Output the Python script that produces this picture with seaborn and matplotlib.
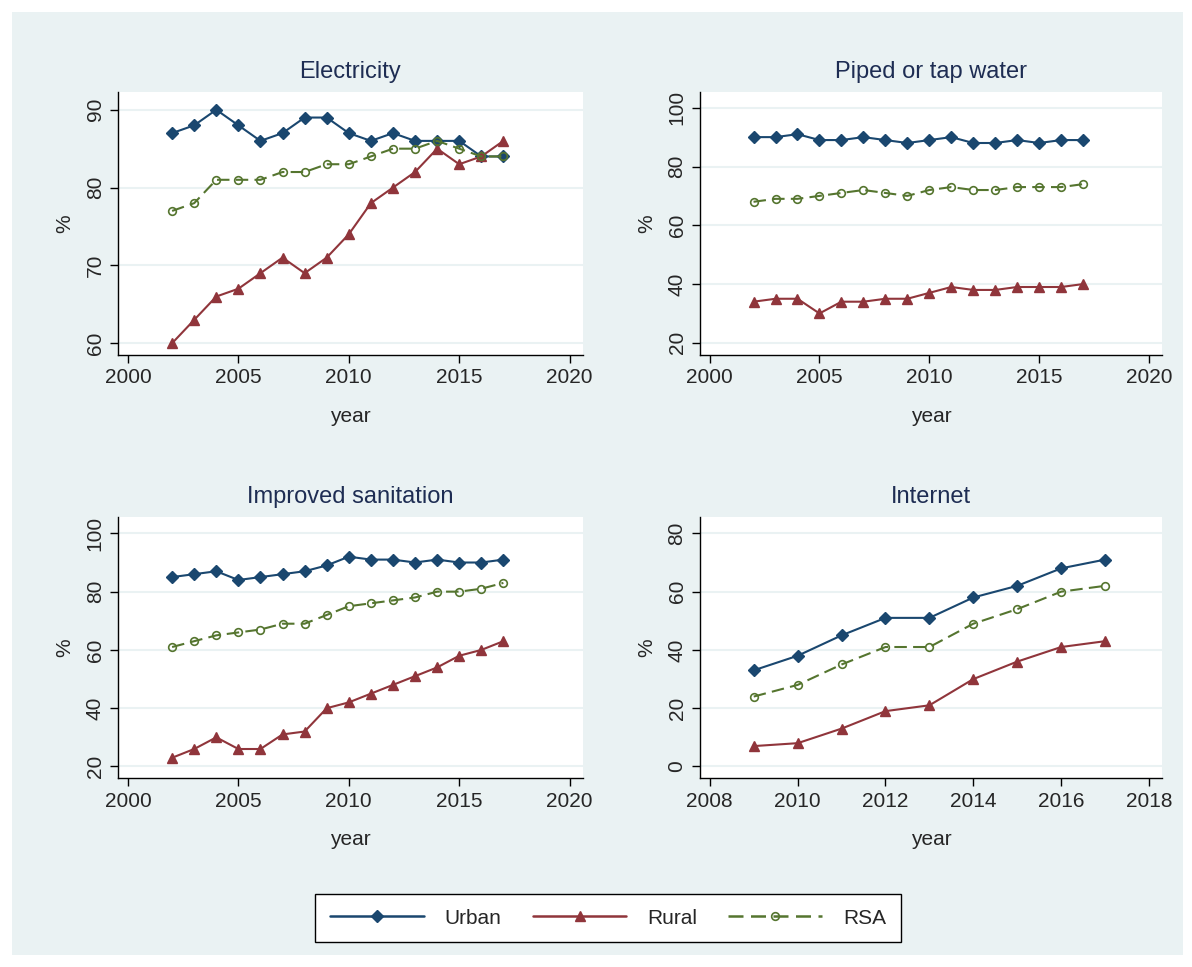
import pandas as pd
import seaborn as sns
import matplotlib.pyplot as plt
from matplotlib.patches import Rectangle
from matplotlib.lines import Line2D

years = list(range(2002, 2018))
years_net = list(range(2009, 2018))

elec_urban = [87, 88, 90, 88, 86, 87, 89, 89, 87, 86, 87, 86, 86, 86, 84, 84]
elec_rural = [60, 63, 66, 67, 69, 71, 69, 71, 74, 78, 80, 82, 85, 83, 84, 86]
elec_rsa = [77, 78, 81, 81, 81, 82, 82, 83, 83, 84, 85, 85, 86, 85, 84, 84]

water_urban = [90, 90, 91, 89, 89, 90, 89, 88, 89, 90, 88, 88, 89, 88, 89, 89]
water_rural = [34, 35, 35, 30, 34, 34, 35, 35, 37, 39, 38, 38, 39, 39, 39, 40]
water_rsa = [68, 69, 69, 70, 71, 72, 71, 70, 72, 73, 72, 72, 73, 73, 73, 74]

san_urban = [85, 86, 87, 84, 85, 86, 87, 89, 92, 91, 91, 90, 91, 90, 90, 91]
san_rural = [23, 26, 30, 26, 26, 31, 32, 40, 42, 45, 48, 51, 54, 58, 60, 63]
san_rsa = [61, 63, 65, 66, 67, 69, 69, 72, 75, 76, 77, 78, 80, 80, 81, 83]

net_urban = [33, 38, 45, 51, 51, 58, 62, 68, 71]
net_rural = [7, 8, 13, 19, 21, 30, 36, 41, 43]
net_rsa = [24, 28, 35, 41, 41, 49, 54, 60, 62]

C_URB, C_RUR, C_RSA = "#1a476f", "#90353b", "#55752f"
styles = {
    "Urban": dict(color=C_URB, marker="D", markersize=6.5, linestyle="-"),
    "Rural": dict(color=C_RUR, marker="^", markersize=7, linestyle="-"),
    "RSA": dict(color=C_RSA, marker="o", markersize=5.5, linestyle=(0, (6, 3)),
                markerfacecolor="none", markeredgewidth=1.2),
}

panels = [
    ("Electricity", years, (elec_urban, elec_rural, elec_rsa), [0.099, 0.633, 0.390, 0.272],
     (1999.55, 2020.6), range(2000, 2021, 5), (58.5, 92.3), [60, 70, 80, 90]),
    ("Piped or tap water", years, (water_urban, water_rural, water_rsa), [0.587, 0.633, 0.388, 0.272],
     (1999.55, 2020.6), range(2000, 2021, 5), (15.9, 105.4), [20, 40, 60, 80, 100]),
    ("Improved sanitation", years, (san_urban, san_rural, san_rsa), [0.099, 0.195, 0.390, 0.270],
     (1999.55, 2020.6), range(2000, 2021, 5), (15.9, 105.5), [20, 40, 60, 80, 100]),
    ("Internet", years_net, (net_urban, net_rural, net_rsa), [0.587, 0.195, 0.388, 0.270],
     (2007.77, 2018.3), range(2008, 2019, 2), (-4.1, 85.5), [0, 20, 40, 60, 80]),
]

sns.set_style("white")
plt.rcParams['font.family'] = ['Liberation Sans', 'DejaVu Sans']
fig = plt.figure(figsize=(11.92, 9.67), dpi=100)
fig.patches.append(Rectangle((12 / 1192, 12 / 967), 1171 / 1192, 943 / 967, transform=fig.transFigure,
                             facecolor="#eaf2f3", edgecolor="none", zorder=-10))

for title, xs, series, pos, xlim, xticks, ylim, yticks in panels:
    ax = fig.add_axes(pos)
    ax.set_facecolor("white")
    for name, vals in zip(["Urban", "Rural", "RSA"], series):
        df = pd.DataFrame({"year": xs, "v": vals})
        st = styles[name]
        sns.lineplot(data=df, x="year", y="v", ax=ax, color=st["color"], linewidth=1.5,
                     marker=st["marker"], markersize=st["markersize"], linestyle=st["linestyle"],
                     markeredgecolor=st["color"],
                     markerfacecolor=st.get("markerfacecolor", st["color"]),
                     markeredgewidth=st.get("markeredgewidth", 1))
    ax.set_xlim(*xlim)
    ax.set_ylim(*ylim)
    ax.set_xticks(list(xticks))
    ax.set_yticks(yticks)
    ax.grid(axis="y", color="#eaf2f3", linewidth=1.5)
    ax.set_axisbelow(True)
    for s in ["top", "right"]:
        ax.spines[s].set_visible(False)
    for s in ["left", "bottom"]:
        ax.spines[s].set_color("black")
        ax.spines[s].set_linewidth(1)
    ax.tick_params(axis="both", length=6, width=1, color="black", labelsize=15, direction="out",
                   left=True, bottom=True)
    for lab in ax.get_yticklabels():
        lab.set_rotation(90)
        lab.set_va("center")
    ax.set_xlabel("year", fontsize=15, labelpad=14)
    ax.set_ylabel("%", fontsize=15, labelpad=8)
    ax.set_title(title, fontsize=17, color="#1e2d53", pad=10)

handles = [Line2D([], [], color=styles[n]["color"], marker=styles[n]["marker"],
                  markersize=styles[n]["markersize"], linestyle=styles[n]["linestyle"], linewidth=1.8,
                  markerfacecolor=styles[n].get("markerfacecolor", styles[n]["color"]),
                  markeredgewidth=styles[n].get("markeredgewidth", 1))
           for n in ["Urban", "Rural", "RSA"]]
leg = fig.legend(handles, ["Urban", "Rural", "RSA"], loc="center", ncol=3,
                 bbox_to_anchor=(608 / 1192, 1 - 918 / 967), fontsize=15, frameon=True, fancybox=False,
                 handlelength=4.5, columnspacing=1.5, borderpad=0.7, handletextpad=1.0, framealpha=1)
leg.get_frame().set_edgecolor("black")
leg.get_frame().set_facecolor("white")
leg.get_frame().set_linewidth(1)

fig.savefig("out.png", dpi=100)
